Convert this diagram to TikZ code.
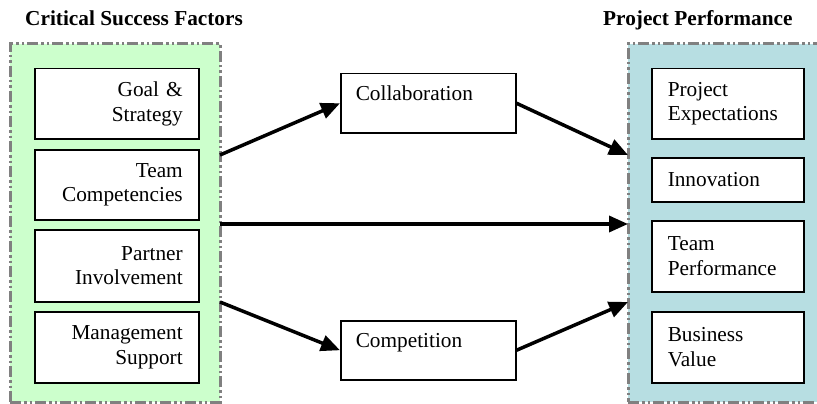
\documentclass[tikz,border=0pt]{standalone}
\usepackage{fontspec}
\setmainfont{Liberation Serif}
\usetikzlibrary{arrows.meta,calc}
\definecolor{csfgreen}{RGB}{204,255,204}
\definecolor{ppblue}{RGB}{183,222,226}

\begin{document}
\begin{tikzpicture}[x=1pt,y=-1pt,>={Triangle[length=19pt,width=16pt]},
  every node/.style={font=\fontsize{21.3}{24.5}\selectfont},
  group/.style={draw=gray,line width=3pt,
    dash pattern=on 11pt off 3pt on 2.5pt off 3pt on 2.5pt off 3pt,
    anchor=north west,inner sep=0pt,outer sep=0pt},
  heading/.style={anchor=base west,inner sep=0pt,
    font=\fontsize{21.3}{24.5}\selectfont\bfseries},
  factor/.style={draw,line width=1.5pt,fill=white,anchor=north west,
    minimum height=70pt,text width=132pt,inner xsep=16pt,align=right},
  outcome/.style={factor,text width=120pt,align=left},
  mediator/.style={draw,line width=1.5pt,fill=white,anchor=north west,
    minimum height=59pt,text width=145pt,inner xsep=15pt,inner ysep=12pt,
    text height=15pt,text depth=20pt,align=left},
  link/.style={->,line width=3.5pt}]
  \useasboundingbox (0,0) rectangle (817,404);
  %
  % Groups
  \node[group,fill=csfgreen,minimum width=210pt,minimum height=358pt] (csf) at (10,44) {};
  \node[group,fill=ppblue,minimum width=194pt,minimum height=358pt] (pp) at (628,44) {};
  \node[heading] (csf-title) at (25,26) {Critical Success Factors};
  \node[heading] (pp-title) at (603,26) {Project Performance};
  %
  % Success factors
  \node[factor] (goal) at (34,68) {Goal \&\\Strategy};
  \node[factor] (team) at (34,149) {Team\\Competencies};
  \node[factor,minimum height=72pt] (partner) at (34,229) {Partner\\Involvement};
  \node[factor,minimum height=71pt] (mgmt) at (34,311) {Management\\Support};
  %
  % Performance
  \node[outcome] (expect) at (651,68) {Project\\Expectations};
  \node[outcome,minimum height=44pt] (innov) at (651,157) {Innovation};
  \node[outcome,minimum height=71pt] (teamperf) at (651,220) {Team\\Performance};
  \node[outcome,minimum height=71pt] (value) at (651,311) {Business\\Value};
  %
  % Mediators
  \node[mediator] (collab) at (340,73) {Collaboration};
  \node[mediator] (compet) at (340,320) {Competition};
  %
  % Links
  \coordinate (csf-hi) at ($(csf.north east)+(0,111)$);
  \coordinate (csf-mid) at ($(csf.north east)+(0,180)$);
  \coordinate (csf-lo) at ($(csf.north east)+(0,258)$);
  \coordinate (pp-hi) at ($(pp.north west)+(0,111)$);
  \coordinate (pp-mid) at ($(pp.north west)+(0,180)$);
  \coordinate (pp-lo) at ($(pp.north west)+(0,258)$);
  \draw[link] (csf-hi) -- (collab.west);
  \draw[link] (collab.east) -- (pp-hi);
  \draw[link] (csf-mid) -- (pp-mid);
  \draw[link] (csf-lo) -- (compet.west);
  \draw[link] (compet.east) -- (pp-lo);
  %
\end{tikzpicture}
\end{document}
